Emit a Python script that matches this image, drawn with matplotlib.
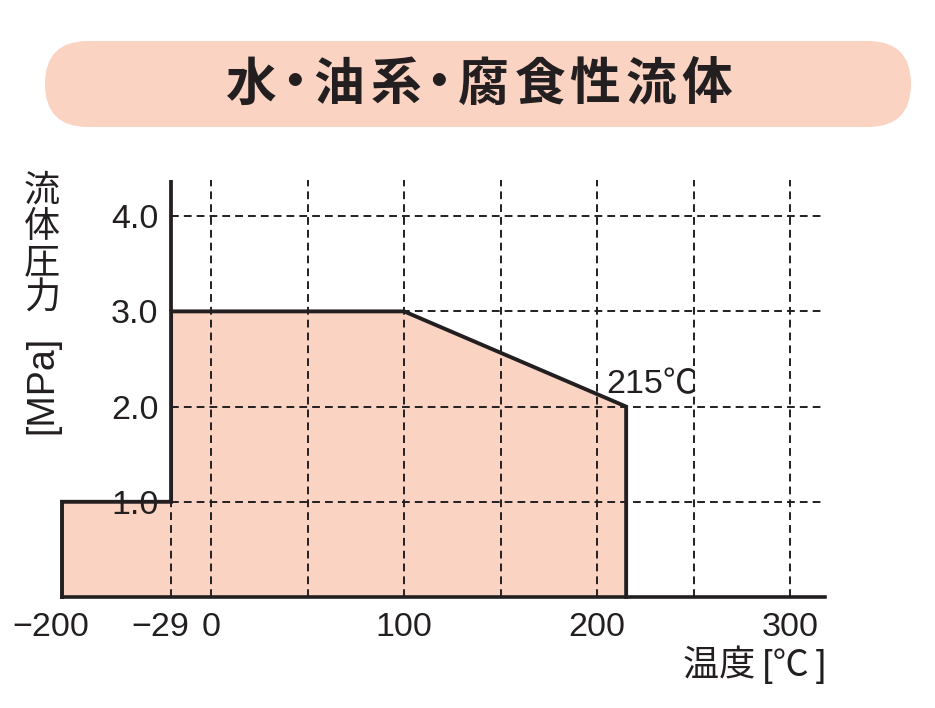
import numpy as np
import matplotlib.pyplot as plt
from matplotlib.patches import FancyBboxPatch

# data
temp = [-200, -200, -29, -29, 100, 215, 215]
pressure = [0.0, 1.0, 1.0, 3.0, 3.0, 2.0, 0.0]
xtick_vals = [-200, -29, 0, 100, 200, 300]
xtick_labels = ['\u2212200', '\u221229', '0', '100', '200', '300']
grid_x = [0, 50, 100, 150, 200, 250, 300]
ytick_vals = [1.0, 2.0, 3.0, 4.0]
ytick_labels = ['1.0', '2.0', '3.0', '4.0']
max_temp = 215
max_temp_label = '215\u2103'
title = '水・油系・腐食性流体'

PINK = '#FBD3C2'
INK = '#231F20'
NUM = ['Liberation Sans', 'Noto Sans CJK JP']
CJK = ['Noto Sans CJK JP', 'DejaVu Sans']

# the axis is squeezed below 0 degC
seg_x = [-200, -29, 0, 400]
seg_u = [-77.2, -20.7, 0, 400]


def fwd(x):
    return np.interp(x, seg_x, seg_u)


def inv(u):
    return np.interp(u, seg_u, seg_x)


fig = plt.figure(figsize=(9.35, 7.08), dpi=100)

# pixel-space layer for the banner and axis titles
bg = fig.add_axes([0, 0, 1, 1], zorder=0)
bg.set_xlim(0, 935)
bg.set_ylim(708, 0)
bg.axis('off')
bg.add_patch(FancyBboxPatch((45, 41), 866, 86, boxstyle='round,pad=0,rounding_size=43',
                            fc=PINK, ec='none'))
# letter-spaced title, the middle dots sit tighter
title_x = [250, 295, 339, 396, 439, 483, 540, 595, 651, 707]
for ch, x in zip(title, title_x):
    bg.text(x, 85, ch, fontsize=36.5, fontweight='bold', family=CJK,
            ha='center', va='center', color=INK)

for i, ch in enumerate('流体圧力'):
    bg.text(42, 191 + i * 36, ch, fontsize=26, family=CJK, ha='center', va='center', color=INK)
bg.text(42, 385, '[MPa]', fontsize=27, family=NUM, rotation=90, ha='center', va='center', color=INK)
bg.text(826, 665, '温度\u2009[\u2103\u2009]', fontsize=26, family=NUM,
        ha='right', va='center', color=INK)

ylim_top = 4.38
ax = fig.add_axes([62 / 935, 1 - 597 / 708, (825 - 62) / 935, (597 - 180) / 708], zorder=1)
ax.set_facecolor('none')
ax.set_xscale('function', functions=(fwd, inv))
ax.set_xlim(-200, 318)
ax.set_ylim(0, ylim_top)
for s in ax.spines.values():
    s.set_visible(False)
ax.set_xticks([])
ax.set_yticks([])

dash = (0, (4, 2.6))
ax.fill(temp, pressure, color=PINK, lw=0, zorder=1)
ax.vlines(grid_x, 0, ylim_top, colors=INK, lw=1.4, linestyles=dash, zorder=2)
ax.vlines(xtick_vals[1], 0, ytick_vals[0], colors=INK, lw=1.4, linestyles=dash, zorder=2)
ax.hlines(ytick_vals, xtick_vals[1], 318, colors=INK, lw=1.4, linestyles=dash, zorder=2)

ax.plot(temp, pressure, color=INK, lw=2.8, solid_joinstyle='miter', zorder=3, clip_on=False)
ax.vlines(xtick_vals[1], max(pressure), ylim_top, colors=INK, lw=2.7, zorder=3, clip_on=False)
ax.axhline(0, color=INK, lw=2.6, zorder=3, clip_on=False)

for v, lab in zip(xtick_vals, xtick_labels):
    dx = -8 if v < 0 else 0
    ax.annotate(lab, xy=(v, 0), xytext=(dx, -28), textcoords='offset points',
                ha='center', va='baseline', fontsize=24.5, family=NUM, color=INK)
for v, lab in zip(ytick_vals, ytick_labels):
    ax.annotate(lab, xy=(xtick_vals[1], v), xytext=(-9, 0), textcoords='offset points',
                ha='right', va='center_baseline', fontsize=24.5, family=NUM, color=INK, zorder=5)

ax.annotate(max_temp_label, xy=(max_temp, 2.0), xytext=(-14, 10), textcoords='offset points',
            ha='left', va='baseline', fontsize=24.5, family=NUM, color=INK)

fig.savefig('out.png', dpi=100)
